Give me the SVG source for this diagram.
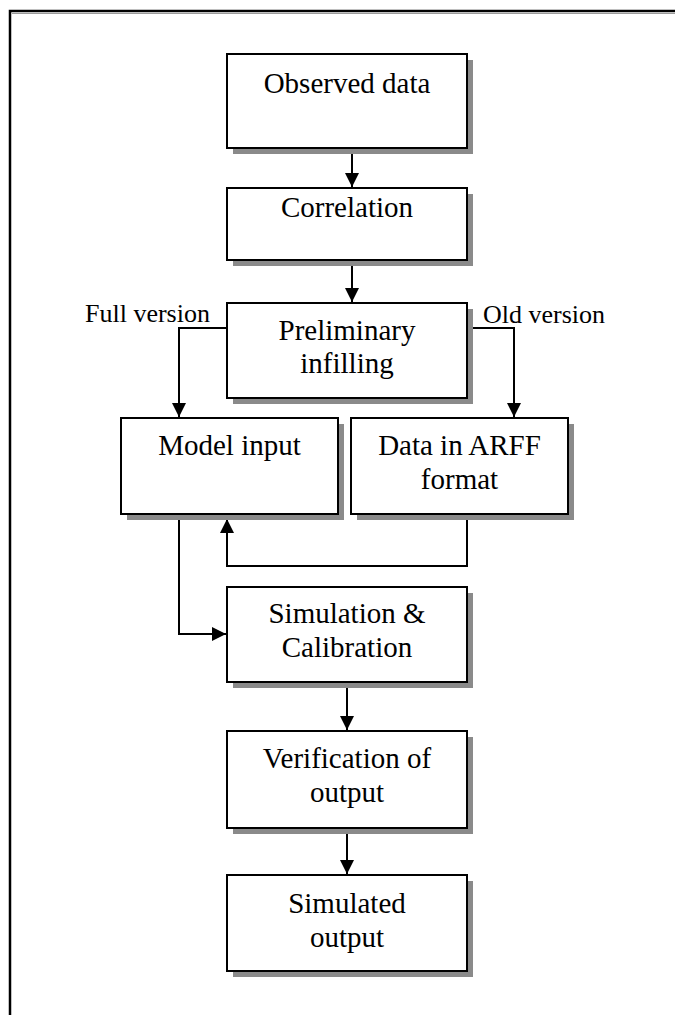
<svg xmlns="http://www.w3.org/2000/svg" width="675" height="1015" viewBox="0 0 675 1015">
  <style>
    .box { fill: #ffffff; stroke: #000000; stroke-width: 2; }
    .shadow { fill: #8a8a8a; stroke: none; }
    .node-text { font-family: "Liberation Serif", "Times New Roman", serif; font-size: 29px; fill: #000000; text-anchor: middle; }
    .label { font-family: "Liberation Serif", "Times New Roman", serif; font-size: 26px; fill: #000000; }
    .conn { fill: none; stroke: #000000; stroke-width: 2; }
    .frame { fill: none; stroke: #000000; stroke-width: 2.5; }
  </style>
  <defs>
    <marker id="arrow" markerUnits="userSpaceOnUse" markerWidth="15" markerHeight="15" refX="14" refY="7" orient="auto">
      <path d="M0,0 L14,7 L0,14 Z" fill="#000000"/>
    </marker>
  </defs>

  <rect width="675" height="1015" fill="#ffffff"/>

  <!-- outer frame (open to the right and bottom) -->
  <path class="frame" d="M10,1015 V11 H675"/>
  <line x1="12" y1="13.5" x2="675" y2="13.5" stroke="#9a9a9a" stroke-width="1"/>

  <!-- connectors -->
  <g id="connectors">
    <line class="conn" x1="352" y1="148" x2="352" y2="187" marker-end="url(#arrow)"/>
    <line class="conn" x1="352" y1="260" x2="352" y2="302" marker-end="url(#arrow)"/>
    <polyline class="conn" points="227,328 179,328 179,417" marker-end="url(#arrow)"/>
    <polyline class="conn" points="467,328 514,328 514,417" marker-end="url(#arrow)"/>
    <polyline class="conn" points="467,514 467,566 227,566 227,519" marker-end="url(#arrow)"/>
    <polyline class="conn" points="179,514 179,634 226,634" marker-end="url(#arrow)"/>
    <line class="conn" x1="347" y1="682" x2="347" y2="730" marker-end="url(#arrow)"/>
    <line class="conn" x1="347" y1="828" x2="347" y2="874" marker-end="url(#arrow)"/>
    <text class="label" x="85" y="322">Full version</text>
    <text class="label" x="483" y="323">Old version</text>
  </g>

  <!-- nodes -->
  <g id="observed-data">
    <rect class="shadow" x="233" y="60" width="240" height="94"/>
    <rect class="box" x="227" y="54" width="240" height="94"/>
    <text class="node-text" x="347" y="93">Observed data</text>
  </g>

  <g id="correlation">
    <rect class="shadow" x="233" y="194" width="240" height="72"/>
    <rect class="box" x="227" y="188" width="240" height="72"/>
    <text class="node-text" x="347" y="217">Correlation</text>
  </g>

  <g id="preliminary-infilling">
    <rect class="shadow" x="233" y="309" width="240" height="95"/>
    <rect class="box" x="227" y="303" width="240" height="95"/>
    <text class="node-text" x="347" y="340">Preliminary</text>
    <text class="node-text" x="347" y="373">infilling</text>
  </g>

  <g id="model-input">
    <rect class="shadow" x="127" y="424" width="217" height="96"/>
    <rect class="box" x="121" y="418" width="217" height="96"/>
    <text class="node-text" x="229.5" y="455">Model input</text>
  </g>

  <g id="data-arff">
    <rect class="shadow" x="357" y="424" width="217" height="96"/>
    <rect class="box" x="351" y="418" width="217" height="96"/>
    <text class="node-text" x="459.5" y="455">Data in ARFF</text>
    <text class="node-text" x="459.5" y="489">format</text>
  </g>

  <g id="simulation-calibration">
    <rect class="shadow" x="233" y="593" width="240" height="95"/>
    <rect class="box" x="227" y="587" width="240" height="95"/>
    <text class="node-text" x="347" y="623">Simulation &amp;</text>
    <text class="node-text" x="347" y="657">Calibration</text>
  </g>

  <g id="verification-output">
    <rect class="shadow" x="233" y="737" width="240" height="97"/>
    <rect class="box" x="227" y="731" width="240" height="97"/>
    <text class="node-text" x="347" y="768">Verification of</text>
    <text class="node-text" x="347" y="802">output</text>
  </g>

  <g id="simulated-output">
    <rect class="shadow" x="233" y="881" width="240" height="96"/>
    <rect class="box" x="227" y="875" width="240" height="96"/>
    <text class="node-text" x="347" y="913">Simulated</text>
    <text class="node-text" x="347" y="947">output</text>
  </g>
</svg>
